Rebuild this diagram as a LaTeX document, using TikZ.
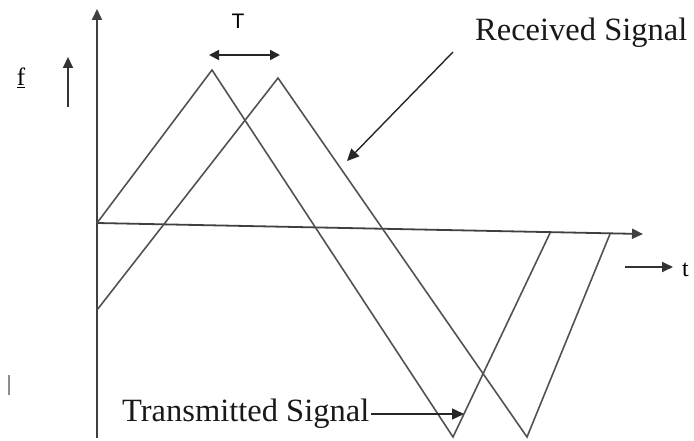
\documentclass[tikz,border=0pt]{standalone}
\usepackage{fontspec}
\setmainfont{Liberation Serif}
\newfontfamily\sansf{Liberation Sans}
\usetikzlibrary{arrows.meta}
\tikzset{
  axis/.style={draw=black!75, line width=1.8pt, -{Triangle[length=11pt,width=10pt]}},
  sig/.style={draw=black!68, line width=1.6pt, line join=miter},
  pointer/.style={draw=black!85, line width=1.4pt, -{Triangle[length=12pt,width=11pt]}},
  lbl/.style={inner sep=0pt, font=\fontsize{32.5}{35}\selectfont, text=black!90},
}
\begin{document}
\begin{tikzpicture}[x=1pt,y=-1pt]
\useasboundingbox (0,0) rectangle (694,441);
% axes
\coordinate (O) at (97,223);
\coordinate (Ybot) at (97,438);
\coordinate (Ytop) at (97,9);
\coordinate (Xend) at (643,234);
\draw[axis] (Ybot) -- (Ytop);
\draw[axis] (O) -- (Xend);
% signals
\coordinate (tp) at (212,70);
\coordinate (tb) at (453,437);
\coordinate (te) at (550,233);
\coordinate (rs) at (97,310);
\coordinate (rp) at (278,78);
\coordinate (rb) at (527,437);
\coordinate (re) at (610,234);
\draw[sig] (O) -- (tp) -- (tb) -- (te);
\draw[sig] (rs) -- (rp) -- (rb) -- (re);
% T marker
\coordinate (Ta) at (209,55);
\coordinate (Tb) at (280,55);
\draw[draw=black!85, line width=1.8pt, {Triangle[length=10pt,width=10pt]}-{Triangle[length=10pt,width=10pt]}] (Ta) -- (Tb);
\node[inner sep=0pt, font=\sansf\fontsize{21}{22}\selectfont] (Tl) at (238,21) {T};
% f label and arrow
\node[inner sep=0pt, font=\fontsize{25}{27}\selectfont] (fl) at (21,78) {\underline{f}};
\coordinate (fa) at (68,107);
\coordinate (fb) at (68,57);
\draw[draw=black!80, line width=1.8pt, -{Triangle[length=11pt,width=10pt]}] (fa) -- (fb);
% t label and arrow
\coordinate (ta) at (625,267);
\coordinate (tbb) at (673,267);
\draw[draw=black!80, line width=1.8pt, -{Triangle[length=11pt,width=10pt]}] (ta) -- (tbb);
\node[inner sep=0pt, anchor=west, font=\fontsize{24}{26}\selectfont] (tl) at (682,270) {t};
% Received Signal
\node[lbl, anchor=west] (rl) at (475,33) {Received Signal};
\coordinate (ra) at (453,52);
\coordinate (rtip) at (347,161);
\draw[pointer] (ra) -- (rtip);
% Transmitted Signal
\node[lbl, anchor=west] (tlbl) at (122,414) {Transmitted Signal};
\coordinate (ttip) at (464,414);
\draw[pointer] (tlbl.east) ++(2,0) coordinate (tta) -- (ttip);
% stray mark
\coordinate (ma) at (9,375);
\coordinate (mb) at (9,395);
\draw[draw=black!45, line width=1.3pt] (ma) -- (mb);
\end{tikzpicture}
\end{document}
